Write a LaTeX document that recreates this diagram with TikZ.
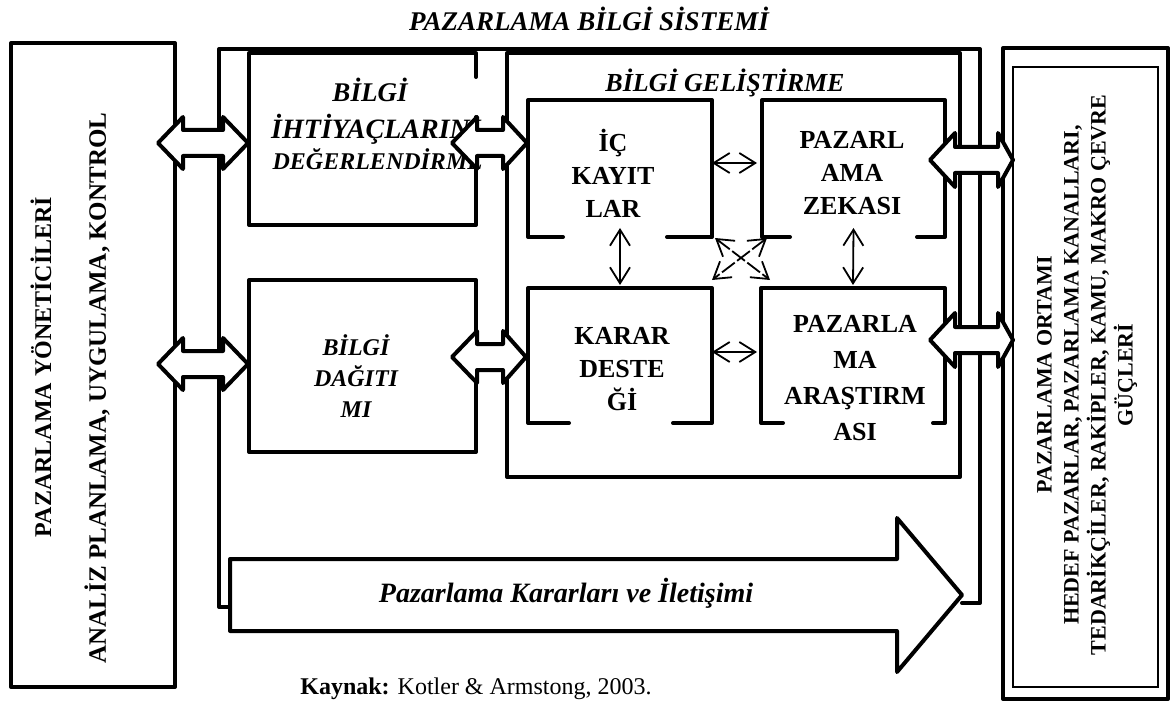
\documentclass[tikz,border=0pt]{standalone}
\usepackage{fontspec}
\setmainfont{Liberation Serif}
\usetikzlibrary{fit,calc,arrows.meta}

% hollow double-headed block arrow:
% #1 left tip x, #2 left head base x, #3 right head base x, #4 right tip x, #5 centre y, #6 half head height
\newcommand\twinarrow[6]{%
  \draw[hollow] (#1,#5) -- (#2,#5-#6) -- (#2,#5-13) -- (#3,#5-13) -- (#3,#5-#6)
    -- (#4,#5) -- (#3,#5+#6) -- (#3,#5+13) -- (#2,#5+13) -- (#2,#5+#6) -- cycle;}

% open box whose bottom edge has a gap: #1 node, #2 left stub, #3 right stub
\newcommand\gapbox[3]{%
  \draw[frame] ($(#1.south west)+(#2,0)$) -- (#1.south west) -- (#1.north west)
    -- (#1.north east) -- (#1.south east) -- ($(#1.south east)+(-#3,0)$);}

\begin{document}
\begin{tikzpicture}[x=0.5pt,y=-0.5pt,
  frame/.style={line width=2pt, line join=round, line cap=round},
  thinframe/.style={line width=1pt},
  hollow/.style={line width=2pt, line join=round, fill=white},
  area/.style={inner sep=0pt, outer sep=0pt},
  link/.style={line width=0.9pt,
    {Straight Barb[length=8pt,width=10pt]}-{Straight Barb[length=8pt,width=10pt]}},
  crosslink/.style={link, dash pattern=on 8pt off 1.5pt},
  unittext/.style={font=\fontsize{13}{16.5}\selectfont\bfseries, align=center, inner sep=0pt},
  flowtext/.style={font=\fontsize{12}{15.5}\selectfont\bfseries\itshape, align=center, inner sep=0pt},
  sidetext/.style={rotate=90, inner sep=0pt, align=center},
]
\useasboundingbox (0,0) rectangle (1171,711);

% managers (left) and environment (right)
\node[area, draw, frame, fit={(11,43) (175,687)}] (managers) {};
\node[area, draw, frame, fit={(1003,48) (1168,699)}] (environment) {};
\node[area, draw, thinframe, fit={(1013,67) (1158,687)}] (envinner) {};

% marketing information system frame, closed at the bottom by the big arrow
\draw[frame] (230,607) -- (219,607) -- (219,49) -- (980,49) -- (980,603) -- (962,603);

% assessing needs, distribution and development frames
\node[area, fit={(249,53) (476,225)}] (needs) {};
\draw[frame] (needs.east |- 0,77) -- (needs.north east) -- (needs.north west)
  -- (needs.south west) -- (needs.south east) -- (needs.east |- 0,117);
\node[area, draw, frame, fit={(249,280) (476,452)}] (distribution) {};
\node[area, draw, frame, fit={(507,53) (960,477)}] (development) {};

% the four development units
\node[area, fit={(528,100) (712,237)}] (records) {};
\node[area, fit={(762,100) (945,237)}] (intelligence) {};
\node[area, fit={(528,288) (712,423)}] (decision) {};
\node[area, fit={(761,288) (945,423)}] (research) {};
\gapbox{records}{35}{45}
\gapbox{intelligence}{28}{28}
\gapbox{decision}{41}{39}
\gapbox{research}{22}{12}

% texts
\node[font=\fontsize{13.5}{16}\selectfont\bfseries\itshape] (title) at (589,19) {PAZARLAMA BİLGİ SİSTEMİ};
\node[font=\fontsize{13}{16}\selectfont\bfseries\itshape] (devtitle) at (725,83) {BİLGİ GELİŞTİRME};

\node[font=\fontsize{13.5}{16}\selectfont\bfseries\itshape, anchor=base] (needs1) at (370,102) {BİLGİ};
\node[font=\fontsize{14}{16}\selectfont\bfseries\itshape, anchor=base] (needs2) at (376,139) {İHTİYAÇLARINI};
\node[font=\fontsize{12}{14}\selectfont\bfseries\itshape, anchor=base] (needs3) at (378,170) {DEĞERLENDİRME};

\node[flowtext] (distext) at (356,376) {BİLGİ\\DAĞITI\\MI};

\node[unittext] (rectext) at (613,173) {İÇ\\KAYIT\\LAR};
\node[unittext] (inttext) at (852,173) {PAZARL\\AMA\\ZEKASI};
\node[unittext] (dectext) at (622,369) {KARAR\\DESTE\\Ğİ};
\node[unittext, font=\fontsize{13}{18}\selectfont\bfseries] (restext) at (855,378) {PAZARLA\\MA\\ARAŞTIRM\\ASI};

\node[sidetext, font=\fontsize{12}{14}\selectfont\bfseries] (mgr1) at (41,367) {PAZARLAMA YÖNETİCİLERİ};
\node[sidetext, font=\fontsize{12.5}{15}\selectfont\bfseries] (mgr2) at (97,388) {ANALİZ PLANLAMA, UYGULAMA, KONTROL};
\node[sidetext, font=\fontsize{11}{13.5}\selectfont\bfseries] (envtext) at (1087,375)
  {PAZARLAMA ORTAMI\\HEDEF PAZARLAR, PAZARLAMA KANALLARI,\\TEDARİKÇİLER, RAKİPLER, KAMU, MAKRO ÇEVRE\\GÜÇLERİ};

% thin links between the development units
\coordinate (rowa) at (0,163);
\coordinate (rowb) at (0,352);
\draw[link] (records.east |- rowa) -- ([xshift=-2.5pt]intelligence.west |- rowa);
\draw[link] (decision.east |- rowb) -- ([xshift=-2pt]research.west |- rowb);
\draw[link] ([yshift=4.5pt]records.south) -- ([yshift=1.5pt]decision.north);
\draw[link] ([yshift=4.5pt]intelligence.south) -- ([yshift=1.5pt]research.north);
\draw[crosslink] ([shift={(1.5pt,-0.5pt)}]records.south east) -- ([shift={(4.5pt,4pt)}]research.north west);
\draw[crosslink] ([shift={(2.5pt,-0.5pt)}]intelligence.south west) -- ([shift={(0pt,4pt)}]decision.north east);

% hollow double arrows
\twinarrow{158}{183}{223}{248}{143}{26}
\twinarrow{158}{183}{223}{248}{364}{26}
\twinarrow{452}{477}{503}{527}{143}{26}
\twinarrow{452}{477}{503}{526}{357}{26}
\twinarrow{930}{955}{998}{1013}{160}{27}
\twinarrow{930}{955}{998}{1013}{340}{27}

% decisions and communication arrow
\draw[hollow] (230,559) -- (897,559) -- (897,518) -- (962,595) -- (897,672) -- (897,631)
  -- (230,631) -- cycle;
\node[font=\fontsize{14}{16}\selectfont\bfseries\itshape] (flow) at (566,593) {Pazarlama Kararları ve İletişimi};

\node[font=\fontsize{12}{14}\selectfont] (source) at (476,689) {\textbf{Kaynak:} Kotler \& Armstong, 2003.};
\end{tikzpicture}
\end{document}
